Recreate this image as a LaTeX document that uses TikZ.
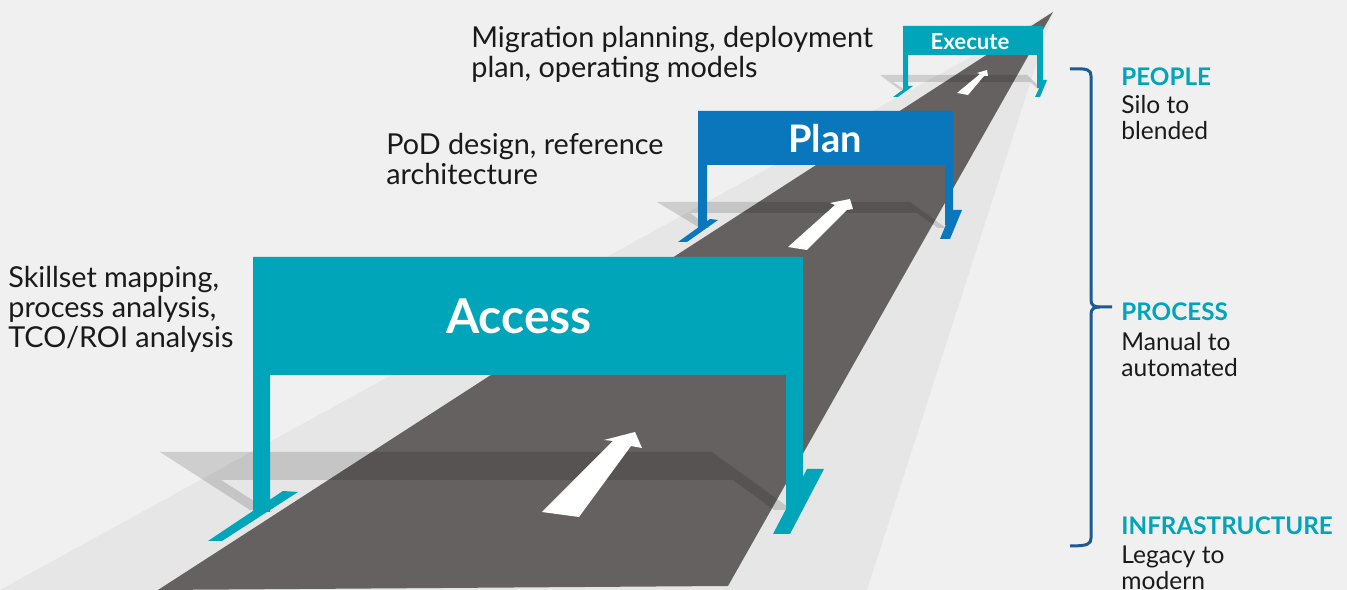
\documentclass[tikz,border=0pt]{standalone}
\usepackage{fontspec}
\setmainfont{Lato}
\definecolor{bggray}{HTML}{F0F0F0}
\definecolor{bandgray}{HTML}{E6E6E6}
\definecolor{roadgray}{HTML}{656160}
\definecolor{signteal}{HTML}{00A5B9}
\definecolor{signblue}{HTML}{0A77BD}
\definecolor{bracenavy}{HTML}{1D5A94}
\definecolor{textblack}{HTML}{1A1A1A}

\begin{document}
\begin{tikzpicture}[x=0.02cm,y=-0.02cm,
  shadow/.style={fill=black,fill opacity=0.14},
  note/.style={anchor=base west,inner sep=0,align=left,text=textblack,font=\fontsize{16.4}{17.2}\selectfont},
  sidenote/.style={anchor=base west,inner sep=0,align=left,text=textblack,font=\fontsize{14}{14.8}\selectfont},
  heading/.style={anchor=base west,inner sep=0,text=signteal,font=\fontsize{13.8}{15}\selectfont\bfseries},
  banner/.style={inner sep=0,text=white,font=\bfseries}]
  \useasboundingbox (0,0) rectangle (1347,590);
  \fill[bggray] (0,0) rectangle (1347,590);

  % ground
  \fill[bandgray] (0,590) -- (1053,12) -- (867,590) -- cycle;
  \fill[roadgray] (158,590) -- (1053,12) -- (728,586) -- cycle;

  % shadows
  \fill[shadow] (160,452) -- (712,452) -- (792,510) -- (774,510) -- (733,480) -- (221,480) -- (268,510) -- (250,510) -- cycle;
  \fill[shadow] (657,202) -- (910,202) -- (946,228) -- (938,228) -- (917,213) -- (690,213) -- (710,228) -- (700,228) -- cycle;
  \fill[shadow] (880,75) -- (1027,75) -- (1042,89) -- (1038,89) -- (1030,82) -- (893,82) -- (905,90) -- (900,90) -- cycle;

  % arrows
  \fill[white] (542,512) -- (613,441) -- (604,440) -- (635,432) -- (642,448) -- (631,446) -- (579,517) -- cycle;
  \fill[white] (788,247) -- (835,205) -- (830,203) -- (850,199) -- (853,209) -- (847,210) -- (807,250) -- cycle;
  \fill[white] (957,93) -- (980,74) -- (977,73) -- (987,70) -- (988,76) -- (984,76) -- (968,95) -- cycle;

  % execute
  \fill[signteal] (903,26) -- (1043,26) -- (1043,88) -- (1037,88) -- (1037,55) -- (908,55) -- (908,90) -- (903,90) -- cycle;
  \fill[signteal] (893,97) -- (898,97) -- (913,86) -- (908,86) -- cycle;
  \fill[signteal] (1035,97) -- (1040,97) -- (1047,80) -- (1043,80) -- cycle;
  \node[banner,font=\fontsize{12.6}{13}\selectfont\bfseries] (execute) at (970,42) {Execute};

  % plan
  \fill[signblue] (698,111) -- (953,111) -- (953,225) -- (945,225) -- (945,165) -- (707,165) -- (707,228) -- (698,228) -- cycle;
  \fill[signblue] (678,242) -- (687,242) -- (718,220) -- (710,219) -- cycle;
  \fill[signblue] (940,239) -- (950,239) -- (962,210) -- (952,210) -- cycle;
  \node[banner,font=\fontsize{21.6}{23}\selectfont\bfseries] (plan) at (825,139) {Plan};

  % access
  \fill[signteal] (253,257) -- (803,257) -- (803,510) -- (786,510) -- (786,375) -- (270,375) -- (270,512) -- (253,512) -- cycle;
  \fill[signteal] (208,541) -- (222,541) -- (298,492) -- (283,491) -- cycle;
  \fill[signteal] (773,534) -- (790,534) -- (824,469) -- (807,469) -- cycle;
  \node[banner,font=\fontsize{27.3}{29}\selectfont\bfseries] (access) at (519,316) {Access};

  % notes
  \node[note] (migration) at (471,78) {Migration planning, deployment\\plan, operating models};
  \node[note] (pod) at (386,185) {PoD design, reference\\architecture};
  \node[note] (skillset) at (8,348) {Skillset mapping,\\process analysis,\\TCO/ROI analysis};

  % brace
  \draw[bracenavy,line width=1.7pt] (1070,69) .. controls (1088,68) and (1091,70) .. (1091,76) -- (1091,300) .. controls (1091,305) and (1094,307) .. (1100,307) -- (1112,307);
  \draw[bracenavy,line width=1.7pt] (1100,307) .. controls (1094,307) and (1091,309) .. (1091,314) -- (1091,538) .. controls (1091,544) and (1088,546) .. (1070,546);

  \node[heading] (people) at (1121,86) {PEOPLE};
  \node[sidenote] (peoplenote) at (1121,140) {Silo to\\blended};
  \node[heading] (process) at (1121,321) {PROCESS};
  \node[sidenote] (processnote) at (1121,377) {Manual to\\automated};
  \node[heading] (infra) at (1121,535) {INFRASTRUCTURE};
  \node[sidenote] (infranote) at (1121,590) {Legacy to\\modern};
\end{tikzpicture}
\end{document}
